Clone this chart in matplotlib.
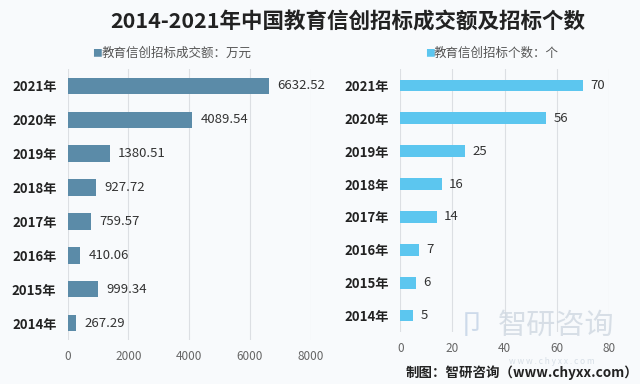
import matplotlib.pyplot as plt

plt.rcParams['font.family'] = ['Noto Sans CJK SC', 'DejaVu Sans']

years = ['2014年', '2015年', '2016年', '2017年', '2018年', '2019年', '2020年', '2021年']
amount = [267.29, 999.34, 410.06, 759.57, 927.72, 1380.51, 4089.54, 6632.52]
count = [5, 6, 7, 14, 16, 25, 56, 70]
amount_ticks = [0, 2000, 4000, 6000, 8000]
count_ticks = [0, 20, 40, 60, 80]

bg = '#f8fafc'
fig = plt.figure(figsize=(6.4, 3.84), dpi=100, facecolor=bg)

W, H = 640, 384


def box(x0, y0, x1, y1):
    return [x0 / W, 1 - y1 / H, (x1 - x0) / W, (y1 - y0) / H]


ax1 = fig.add_axes(box(67.7, 69, 310.7, 340))
ax2 = fig.add_axes(box(400.3, 69, 608.7, 332))

panels = [
    (ax1, amount, amount_ticks, '#5b8ba8', 0.49, lambda v: f'{v:.2f}', 8000),
    (ax2, count, count_ticks, '#5cc6ef', 0.36, lambda v: f'{v}', 80),
]

for ax, vals, ticks, color, h, fmt, xmax in panels:
    ax.set_facecolor(bg)
    y = range(len(years))
    ax.barh(y, vals, height=h, color=color, zorder=2)
    for yi, v in zip(y, vals):
        ax.text(v + xmax * 0.035, yi, fmt(v), va='center', ha='left',
                fontsize=9.5, color='#333333')
    ax.set_xlim(0, xmax)
    ax.set_ylim(-0.5, len(years) - 0.5)
    ax.set_xticks(ticks)
    ax.set_yticks(list(y))
    ax.set_yticklabels(years, fontsize=9.5, fontweight='bold', color='#222222')
    ax.tick_params(axis='x', labelsize=8.5, colors='#666666', length=0, pad=7)
    ax.tick_params(axis='y', length=0, pad=8)
    ax.grid(axis='x', color='#dcdfe3', linewidth=0.8, zorder=0)
    for s in ax.spines.values():
        s.set_visible(False)

fig.text(348 / W, 1 - 22 / H, '2014-2021年中国教育信创招标成交额及招标个数',
         ha='center', va='center', fontsize=15.5, fontweight='bold', color='#222222')

fig.text(92 / W, 1 - 53 / H, '■', ha='left', va='center', fontsize=7, color='#5b8ba8')
fig.text(102 / W, 1 - 53 / H, '教育信创招标成交额：万元', ha='left', va='center',
         fontsize=9, color='#555555')
fig.text(425 / W, 1 - 53 / H, '■', ha='left', va='center', fontsize=7, color='#5cc6ef')
fig.text(434 / W, 1 - 53 / H, '教育信创招标个数：个', ha='left', va='center',
         fontsize=9, color='#555555')

# watermark
fig.text(556 / W, 1 - 326 / H, '智研咨询', ha='center', va='center',
         fontsize=21, color='#cfd8e1', alpha=0.8)
fig.text(472 / W, 1 - 326 / H, '卩', ha='center', va='center',
         fontsize=20, color='#c3d3e6', alpha=0.8)
fig.text(552 / W, 1 - 361 / H, 'w w w . c h y x x . c o m', ha='center', va='center',
         fontsize=6, color='#cfd8e1', alpha=0.8)

fig.text(638 / W, 1 - 373 / H, '制图：智研咨询（www.chyxx.com）', ha='right', va='center',
         fontsize=9.7, fontweight='bold', color='#222222')

fig.savefig('out.png', dpi=100, facecolor=bg)
